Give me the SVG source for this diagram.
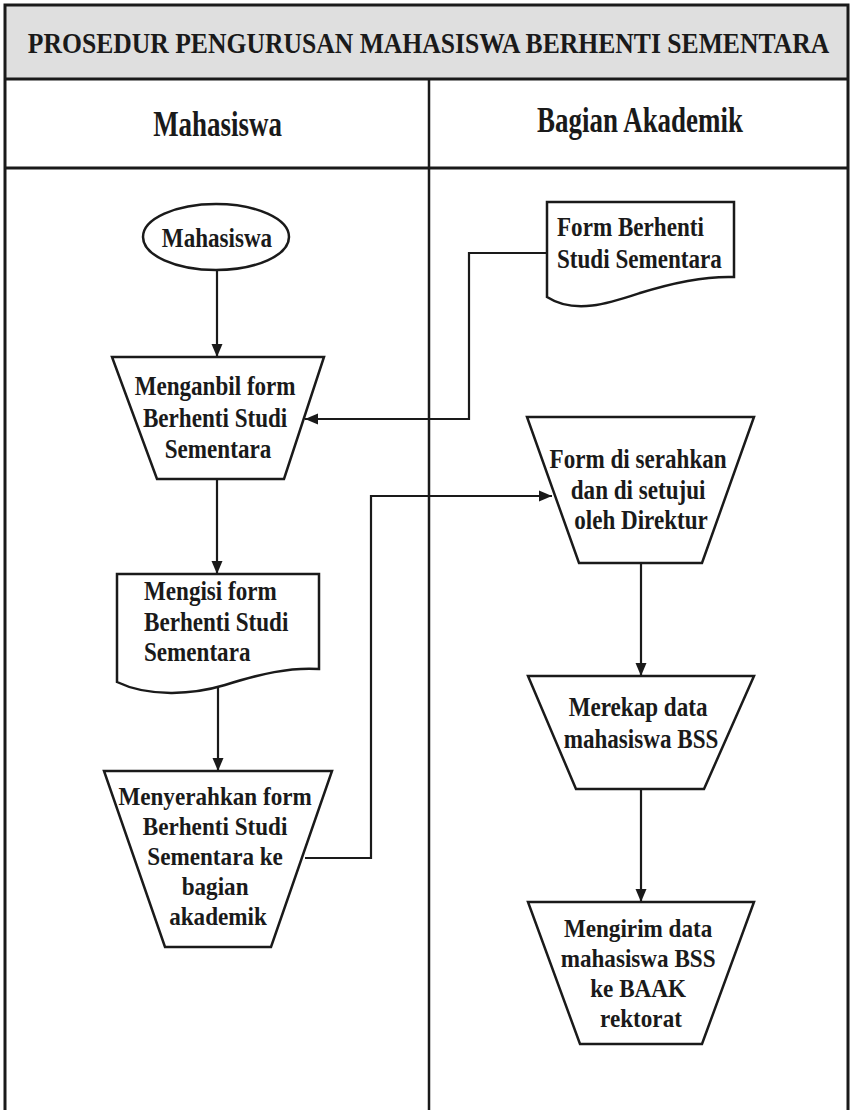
<svg xmlns="http://www.w3.org/2000/svg" width="852" height="1110" viewBox="0 0 852 1110">
  <style>
    .frame { fill: none; stroke: #1a1a1a; stroke-width: 3; }
    .shape { fill: #ffffff; stroke: #1a1a1a; stroke-width: 2.5; stroke-linejoin: miter; }
    .conn { fill: none; stroke: #1a1a1a; stroke-width: 2.2; }
    text { font-family: "Liberation Serif", "Times New Roman", Times, serif; font-weight: 700; fill: #1a1a1a; }
    .title { font-size: 30px; text-anchor: middle; }
    .head { font-size: 35px; text-anchor: middle; }
    .lbl { font-size: 28px; text-anchor: middle; }
    .lbl-l { font-size: 28px; text-anchor: start; }
    .lbl-s { font-size: 26px; text-anchor: middle; }
  </style>
  <defs>
    <marker id="arrow" markerUnits="userSpaceOnUse" markerWidth="14" markerHeight="14" viewBox="0 0 14 14" refX="13" refY="7" orient="auto">
      <path d="M0,1.5 L13,7 L0,12.5 Z" fill="#1a1a1a"/>
    </marker>
  </defs>

  <rect x="0" y="0" width="852" height="1110" fill="#ffffff"/>

  <g id="frame">
    <rect x="5" y="5" width="843" height="74" fill="#dfdfdf"/>
    <path class="frame" d="M5,1110 L5,5 L848,5 L848,1110"/>
    <line class="frame" x1="5" y1="79" x2="848" y2="79"/>
    <line class="frame" x1="5" y1="168" x2="848" y2="168"/>
    <line class="frame" x1="429" y1="79" x2="429" y2="1110" style="stroke-width:2.5"/>
    <text class="title" transform="translate(428.5 0) scale(0.855 1)" x="0" y="53">PROSEDUR PENGURUSAN MAHASISWA BERHENTI SEMENTARA</text>
    <text class="head" transform="translate(217.5 0) scale(0.77 1)" x="0" y="136">Mahasiswa</text>
    <text class="head" transform="translate(640 0) scale(0.77 1)" x="0" y="132">Bagian Akademik</text>
  </g>

  <g id="connectors">
    <line class="conn" x1="217" y1="270" x2="217" y2="357" marker-end="url(#arrow)"/>
    <line class="conn" x1="217" y1="479" x2="217" y2="574" marker-end="url(#arrow)"/>
    <line class="conn" x1="218" y1="686" x2="218" y2="771" marker-end="url(#arrow)"/>
    <polyline class="conn" points="547,253 469,253 469,419 305,419" marker-end="url(#arrow)"/>
    <polyline class="conn" points="305,858 371,858 371,496 552,496" marker-end="url(#arrow)"/>
    <line class="conn" x1="641" y1="563" x2="641" y2="676" marker-end="url(#arrow)"/>
    <line class="conn" x1="641" y1="789" x2="641" y2="902" marker-end="url(#arrow)"/>
  </g>

  <g id="start-mahasiswa">
    <ellipse class="shape" cx="216" cy="237" rx="73" ry="33"/>
    <text class="lbl" transform="translate(217 0) scale(0.825 1)" x="0" y="247">Mahasiswa</text>
  </g>

  <g id="ambil-form">
    <polygon class="shape" points="112,357 324,357 284,479 157,479"/>
    <text class="lbl" transform="translate(218 0) scale(0.825 1)">
      <tspan x="0" y="395">Menganbil form</tspan>
      <tspan x="0" y="427">Berhenti Studi</tspan>
      <tspan x="0" y="458">Sementara</tspan>
    </text>
  </g>

  <g id="isi-form">
    <path class="shape" d="M117,574 L319,574 L319,669 C290,667 260,674 225,685 C195,694 150,698 117,682 Z"/>
    <text class="lbl-l" transform="translate(144 0) scale(0.825 1)">
      <tspan x="0" y="600">Mengisi form</tspan>
      <tspan x="0" y="631">Berhenti Studi</tspan>
      <tspan x="0" y="661">Sementara</tspan>
    </text>
  </g>

  <g id="serahkan-form">
    <polygon class="shape" points="104,771 332,771 271,947 165,947"/>
    <text class="lbl-s" transform="translate(218 0) scale(0.89 1)">
      <tspan x="0" y="805">Menyerahkan form</tspan>
      <tspan x="0" y="835">Berhenti Studi</tspan>
      <tspan x="0" y="865">Sementara ke</tspan>
      <tspan x="0" y="895">bagian</tspan>
      <tspan x="0" y="925">akademik</tspan>
    </text>
  </g>

  <g id="doc-form-bss">
    <path class="shape" d="M547,202 L734,202 L734,277 C705,276 675,282 640,293 C610,303 575,315 547,297 Z"/>
    <text class="lbl-l" transform="translate(557 0) scale(0.825 1)">
      <tspan x="0" y="236">Form Berhenti</tspan>
      <tspan x="0" y="268">Studi Sementara</tspan>
    </text>
  </g>

  <g id="disetujui-direktur">
    <polygon class="shape" points="527,417 754,417 702,563 579,563"/>
    <text class="lbl" transform="translate(641 0) scale(0.825 1)">
      <tspan x="0" y="468">Form di serahkan</tspan>
      <tspan x="0" y="499">dan di setujui</tspan>
      <tspan x="0" y="529">oleh Direktur</tspan>
    </text>
  </g>

  <g id="rekap-data">
    <polygon class="shape" points="528,676 754,676 704,789 576,789"/>
    <text class="lbl" transform="translate(641 0) scale(0.825 1)">
      <tspan x="0" y="716">Merekap data</tspan>
      <tspan x="0" y="748">mahasiswa BSS</tspan>
    </text>
  </g>

  <g id="kirim-data">
    <polygon class="shape" points="528,902 754,902 702,1044 580,1044"/>
    <text class="lbl-s" transform="translate(641 0) scale(0.89 1)">
      <tspan x="0" y="937">Mengirim data</tspan>
      <tspan x="0" y="967">mahasiswa BSS</tspan>
      <tspan x="0" y="997">ke BAAK</tspan>
      <tspan x="0" y="1027">rektorat</tspan>
    </text>
  </g>
</svg>
